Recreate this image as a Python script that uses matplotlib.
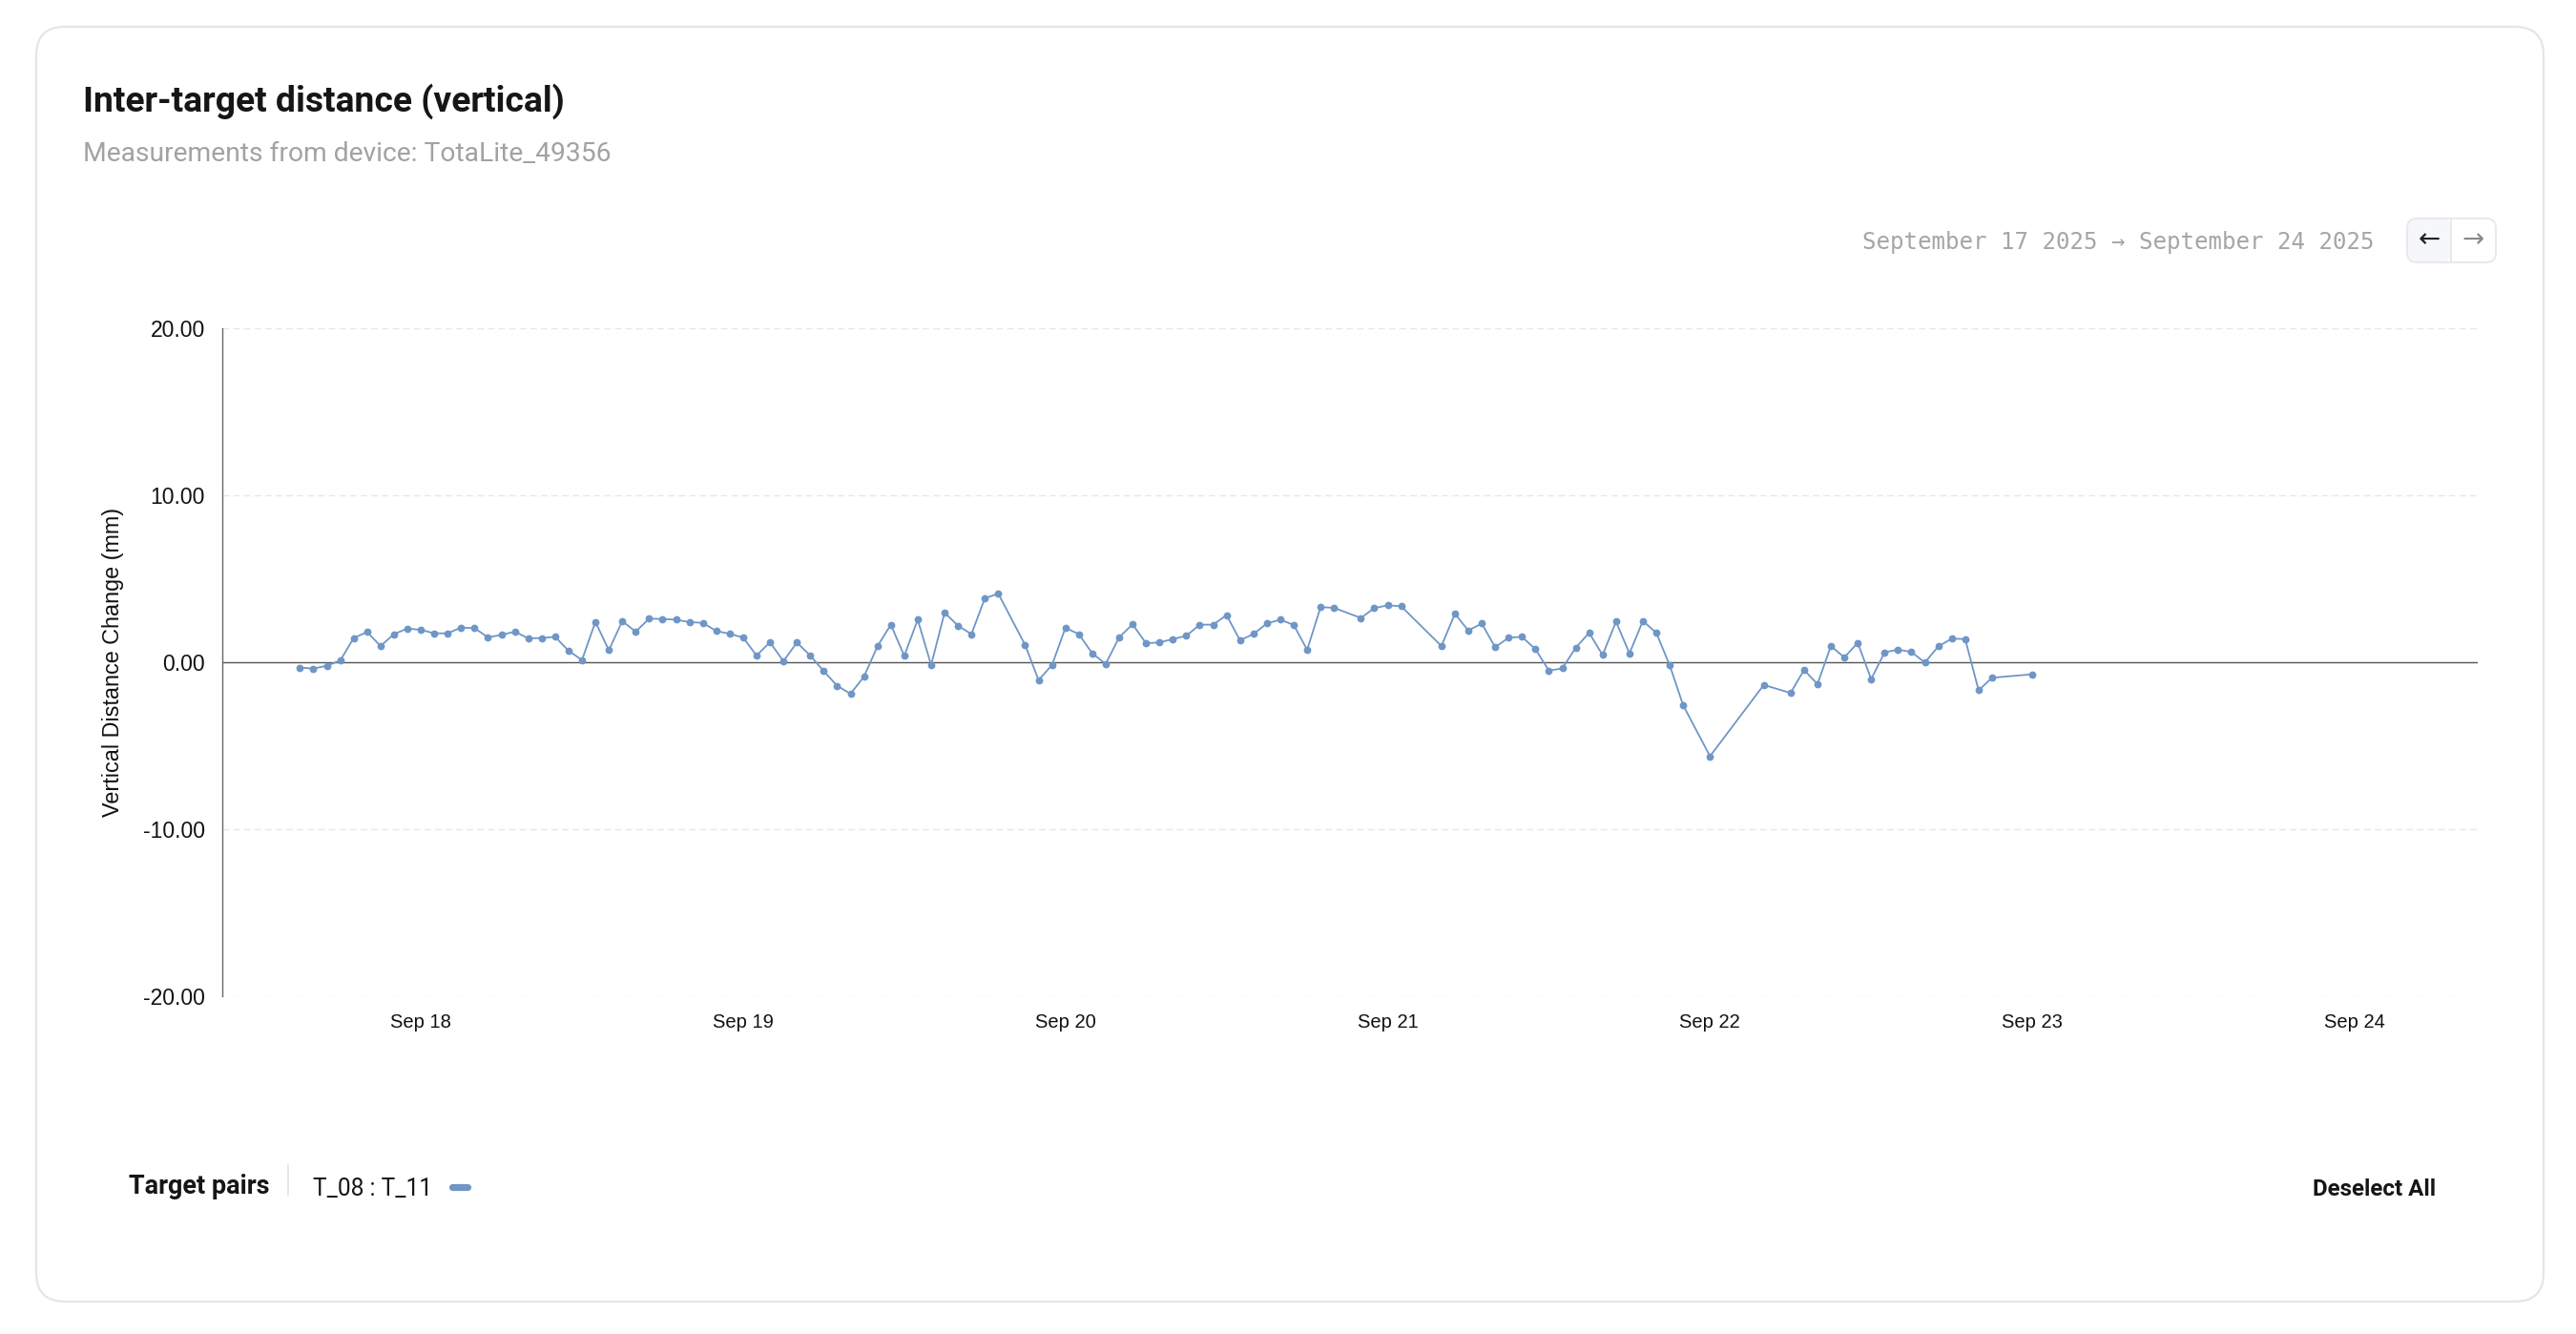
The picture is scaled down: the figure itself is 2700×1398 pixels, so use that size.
import matplotlib
matplotlib.use("Agg")
import matplotlib.pyplot as plt
import matplotlib.dates as mdates
from matplotlib.patches import FancyBboxPatch
from matplotlib.transforms import IdentityTransform
from datetime import datetime

# hourly samples (some hours missing), pair T_08 : T_11
TIMES = [
    "09-17 15:00", "09-17 16:00", "09-17 17:00", "09-17 18:00", "09-17 19:00",
    "09-17 20:00", "09-17 21:00", "09-17 22:00", "09-17 23:00",
    "09-18 00:00", "09-18 01:00", "09-18 02:00", "09-18 03:00", "09-18 04:00",
    "09-18 05:00", "09-18 06:00", "09-18 07:00", "09-18 08:00", "09-18 09:00",
    "09-18 10:00", "09-18 11:00", "09-18 12:00", "09-18 13:00", "09-18 14:00",
    "09-18 15:00", "09-18 16:00", "09-18 17:00", "09-18 18:00", "09-18 19:00",
    "09-18 20:00", "09-18 21:00", "09-18 22:00", "09-18 23:00",
    "09-19 00:00", "09-19 01:00", "09-19 02:00", "09-19 03:00", "09-19 04:00",
    "09-19 05:00", "09-19 06:00", "09-19 07:00", "09-19 08:00", "09-19 09:00",
    "09-19 10:00", "09-19 11:00", "09-19 12:00", "09-19 13:00", "09-19 14:00",
    "09-19 15:00", "09-19 16:00", "09-19 17:00", "09-19 18:00", "09-19 19:00",
    "09-19 21:00", "09-19 22:00", "09-19 23:00",
    "09-20 00:00", "09-20 01:00", "09-20 02:00", "09-20 03:00", "09-20 04:00",
    "09-20 05:00", "09-20 06:00", "09-20 07:00", "09-20 08:00", "09-20 09:00",
    "09-20 10:00", "09-20 11:00", "09-20 12:00", "09-20 13:00", "09-20 14:00",
    "09-20 15:00", "09-20 16:00", "09-20 17:00", "09-20 18:00", "09-20 19:00",
    "09-20 20:00", "09-20 22:00", "09-20 23:00",
    "09-21 00:00", "09-21 01:00", "09-21 04:00", "09-21 05:00", "09-21 06:00",
    "09-21 07:00", "09-21 08:00", "09-21 09:00", "09-21 10:00", "09-21 11:00",
    "09-21 12:00", "09-21 13:00", "09-21 14:00", "09-21 15:00", "09-21 16:00",
    "09-21 17:00", "09-21 18:00", "09-21 19:00", "09-21 20:00", "09-21 21:00",
    "09-21 22:00",
    "09-22 00:00", "09-22 04:00", "09-22 06:00", "09-22 07:00", "09-22 08:00",
    "09-22 09:00", "09-22 10:00", "09-22 11:00", "09-22 12:00", "09-22 13:00",
    "09-22 14:00", "09-22 15:00", "09-22 16:00", "09-22 17:00", "09-22 18:00",
    "09-22 19:00", "09-22 20:00", "09-22 21:00",
    "09-23 00:00",
]

VALUES = [
    -0.32, -0.38, -0.21, 0.10, 1.45, 1.81, 0.97, 1.68, 2.02,
    1.94, 1.73, 1.73, 2.08, 2.04, 1.49, 1.64, 1.83, 1.43, 1.45, 1.52, 0.69,
    0.13, 2.42, 0.72, 2.46, 1.83, 2.61, 2.59, 2.55, 2.40, 2.36, 1.87, 1.70,
    1.48, 0.40, 1.20, 0.06, 1.18, 0.40, -0.53, -1.41, -1.89, -0.86, 0.95,
    2.25, 0.38, 2.55, -0.17, 2.97, 2.19, 1.68, 3.83, 4.11, 1.03, -1.07, -0.17,
    2.06, 1.68, 0.53, -0.10, 1.49, 2.27, 1.14, 1.18, 1.39, 1.58, 2.25, 2.25,
    2.82, 1.31, 1.69, 2.32, 2.55, 2.23, 0.74, 3.30, 3.26, 2.65, 3.24,
    3.41, 3.35, 0.97, 2.90, 1.90, 2.32, 0.90, 1.47, 1.52, 0.78, -0.50, -0.37,
    0.87, 1.76, 0.43, 2.43, 0.53, 2.47, 1.76, -0.19, -2.58,
    -5.63, -1.36, -1.84, -0.46, -1.31, 0.97, 0.29, 1.16, -1.01, 0.59, 0.76,
    0.61, -0.02, 0.95, 1.41, 1.39, -1.68, -0.93,
    -0.72,
]

Y_TICKS = [-20, -10, 0, 10, 20]
PAIR_LABEL = "T_08 : T_11"
LINE_COLOR = "#6f96c6"

W, H = 2700, 1398
SANS = ["Roboto", "DejaVu Sans"]
HELV = ["Liberation Sans", "DejaVu Sans"]

times = [datetime.strptime("2025-" + t, "%Y-%m-%d %H:%M") for t in TIMES]

fig = plt.figure(figsize=(W / 100, H / 100), dpi=100)
fig.patch.set_facecolor("white")
renderer = fig.canvas.get_renderer()


def put(x, y, s, size, target_w=None, **kw):
    """text at pixel position (from top-left); optionally fit to a width."""
    t = fig.text(x / W, 1 - y / H, s, fontsize=size, **kw)
    if target_w:
        w = t.get_window_extent(renderer).width
        t.set_fontsize(size * target_w / w)
    return t


# card
card = FancyBboxPatch((38, H - 1364), 2628, 1336,
                      boxstyle="round,pad=0,rounding_size=30",
                      transform=IdentityTransform(), facecolor="white",
                      edgecolor="#e2e5ec", linewidth=1.6, zorder=0)
fig.add_artist(card)

# header
put(87, 117, "Inter-target distance (vertical)", 26, target_w=506,
    family=SANS, fontweight="bold", color="#161616", va="baseline")
put(87, 169, "Measurements from device: TotaLite_49356", 21, target_w=554,
    family=SANS, color="#a2a2a2", va="baseline")
put(2489, 261, "September 17 2025 \u2192 September 24 2025", 18, target_w=533,
    family=["DejaVu Sans Mono"], color="#a5a5a5", va="baseline", ha="right")

# prev / next buttons
btn_l = FancyBboxPatch((2523, H - 275), 46, 46,
                       boxstyle="round,pad=0,rounding_size=10",
                       transform=IdentityTransform(), facecolor="#f6f7f9",
                       edgecolor="none", zorder=1)
btn = FancyBboxPatch((2523, H - 275), 93, 46,
                     boxstyle="round,pad=0,rounding_size=10",
                     transform=IdentityTransform(), facecolor="none",
                     edgecolor="#e6e9ef", linewidth=1.4, zorder=2)
fig.add_artist(btn_l)
fig.add_artist(btn)
fig.add_artist(plt.Line2D([2569, 2569], [H - 275, H - 229], color="#e6e9ef",
                          linewidth=1.4, transform=IdentityTransform()))
put(2546, 251, "\u2190", 20, family=["DejaVu Sans"], color="#222222",
    ha="center", va="center")
put(2592, 251, "\u2192", 20, family=["DejaVu Sans"], color="#8a8a8a",
    ha="center", va="center")

# plot area
ax = fig.add_axes([233 / W, 1 - 1044 / H, (2597 - 233) / W, 700 / H])
ax.set_facecolor("none")
for side in ("top", "right", "bottom"):
    ax.spines[side].set_visible(False)
ax.spines["left"].set_color("#666666")
ax.spines["left"].set_linewidth(1.0)

for yv in Y_TICKS:
    if yv == 0:
        ax.axhline(0, color="#555555", linewidth=1.0, zorder=2)
    else:
        ax.axhline(yv, color="#e4e7ed", linewidth=1.0, dashes=(5, 3), zorder=1)

ax.plot(times, VALUES, color=LINE_COLOR, linewidth=1.3, marker="o",
        markersize=5.6, markeredgewidth=0, zorder=3)

ax.set_ylim(-20, 20)
ax.set_yticks(Y_TICKS)
ax.set_yticklabels([f"{v:.2f}" for v in Y_TICKS])
ax.set_xlim(datetime(2025, 9, 17, 9, 13), datetime(2025, 9, 24, 9, 10))
ax.xaxis.set_major_locator(mdates.DayLocator())
ax.xaxis.set_major_formatter(mdates.DateFormatter("%b %d"))
ax.tick_params(axis="y", length=0, pad=13, labelsize=16.5, labelcolor="#111111")
ax.tick_params(axis="x", length=0, pad=13, labelsize=14.5, labelcolor="#111111")
for lbl in ax.get_xticklabels() + ax.get_yticklabels():
    lbl.set_family(HELV)

put(118, 694, "Vertical Distance Change (mm)", 16.8, family=HELV,
    color="#111111", rotation=90, ha="center", va="center")

# legend row
put(135, 1251, "Target pairs", 21, target_w=148, family=SANS,
    fontweight="bold", color="#161616", va="baseline")
fig.add_artist(plt.Line2D([302, 302], [H - 1252, H - 1221], color="#e4e7ed",
                          linewidth=1.4, transform=IdentityTransform()))
put(328, 1253, PAIR_LABEL, 18, target_w=125, family=SANS, color="#161616",
    va="baseline")
fig.add_artist(plt.Line2D([474, 490], [H - 1244, H - 1244], color=LINE_COLOR,
                          linewidth=5.2, solid_capstyle="round",
                          transform=IdentityTransform()))
put(2553, 1253, "Deselect All", 17, target_w=129, family=SANS,
    fontweight="bold", color="#161616", va="baseline", ha="right")

fig.savefig("out.png", dpi=100, facecolor="white")
